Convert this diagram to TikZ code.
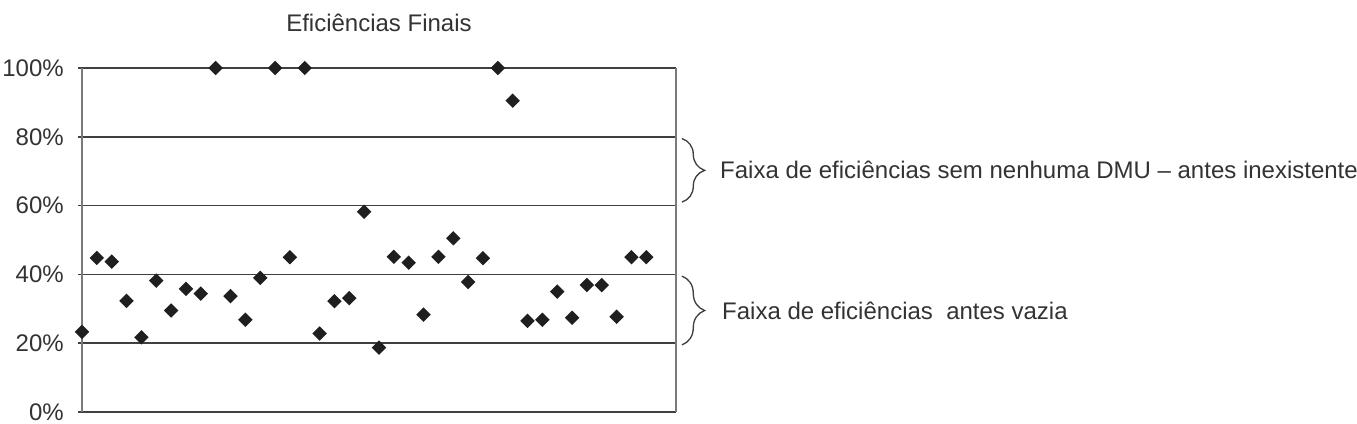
\documentclass[tikz,border=0pt]{standalone}
\usepackage{fontspec}
\setmainfont{Liberation Sans}
\usetikzlibrary{shapes, positioning, calc, decorations.pathreplacing}
\definecolor{gridgray}{HTML}{404040}
\definecolor{axisgray}{HTML}{7A7A7A}
\definecolor{textgray}{HTML}{333333}
\tikzstyle{dmu}=[diamond, fill=black!88, inner sep=0pt, minimum width=11pt, minimum height=11pt]
\tikzstyle{grid line}=[line width=1.2pt, draw=gridgray]
\tikzstyle{axis line}=[line width=1.4pt, draw=axisgray]
\tikzstyle{band brace}=[line width=1pt, draw=gridgray, decorate, decoration={brace, amplitude=17pt}]
\tikzstyle{tick text}=[anchor=east, inner sep=0pt, xshift=-13.5pt]
\tikzstyle{band text}=[inner sep=0pt, anchor=west]

\begin{document}
\begin{tikzpicture}[x=0.75pt, y=0.75pt, font=\fontsize{18}{21.6}\selectfont, text=textgray]
    \useasboundingbox (0,0) rectangle (1357,424);
    \begin{scope}[shift={(82,12)}, x=14.85*0.75pt, y=3.44*0.75pt]
        % Draw the grid and the frame
        \foreach \v in {0,20,...,100} {
            \draw[grid line] (-0.27,\v) -- (40,\v);
            \node[tick text] (tick \v) at (0,\v) {\v\%};
        }
        \draw[axis line] (0,0) -- (0,100);
        \draw[axis line] (40,0) -- (40,100);
        \node[anchor=base, yshift=27pt] (title) at (20,100) {Eficiências Finais};

        % Draw the DMUs
        \foreach \v [count=\i from 0] in {23.3, 44.8, 43.7, 32.3, 21.7, 38.2, 29.5, 35.8, 34.4, 100,
                                          33.7, 26.8, 39.0, 100, 45.0, 100, 22.8, 32.2, 33.1, 58.2,
                                          18.7, 45.1, 43.4, 28.3, 45.1, 50.5, 37.8, 44.7, 100, 90.5,
                                          26.5, 26.8, 35.0, 27.4, 36.9, 36.9, 27.7, 45.0, 45.0} {
            \node[dmu] (dmu \i) at (\i,\v) {};
        }

        % Draw the braces
        \coordinate (high top) at (40.4,79.5);
        \coordinate (high bottom) at (40.4,61);
        \coordinate (low top) at (40.4,39.5);
        \coordinate (low bottom) at (40.4,19.5);
        \draw[band brace] (high top) -- (high bottom);
        \draw[band brace] (low top) -- (low bottom);
        \node[band text, right = 28.5pt of $(high top)!0.5!(high bottom)$] (high band)
            {Faixa de eficiências sem nenhuma DMU -- antes inexistente};
        \node[band text, right = 30pt of $(low top)!0.5!(low bottom)$] (low band)
            {Faixa de eficiências\ \ antes vazia};
    \end{scope}
\end{tikzpicture}
\end{document}
